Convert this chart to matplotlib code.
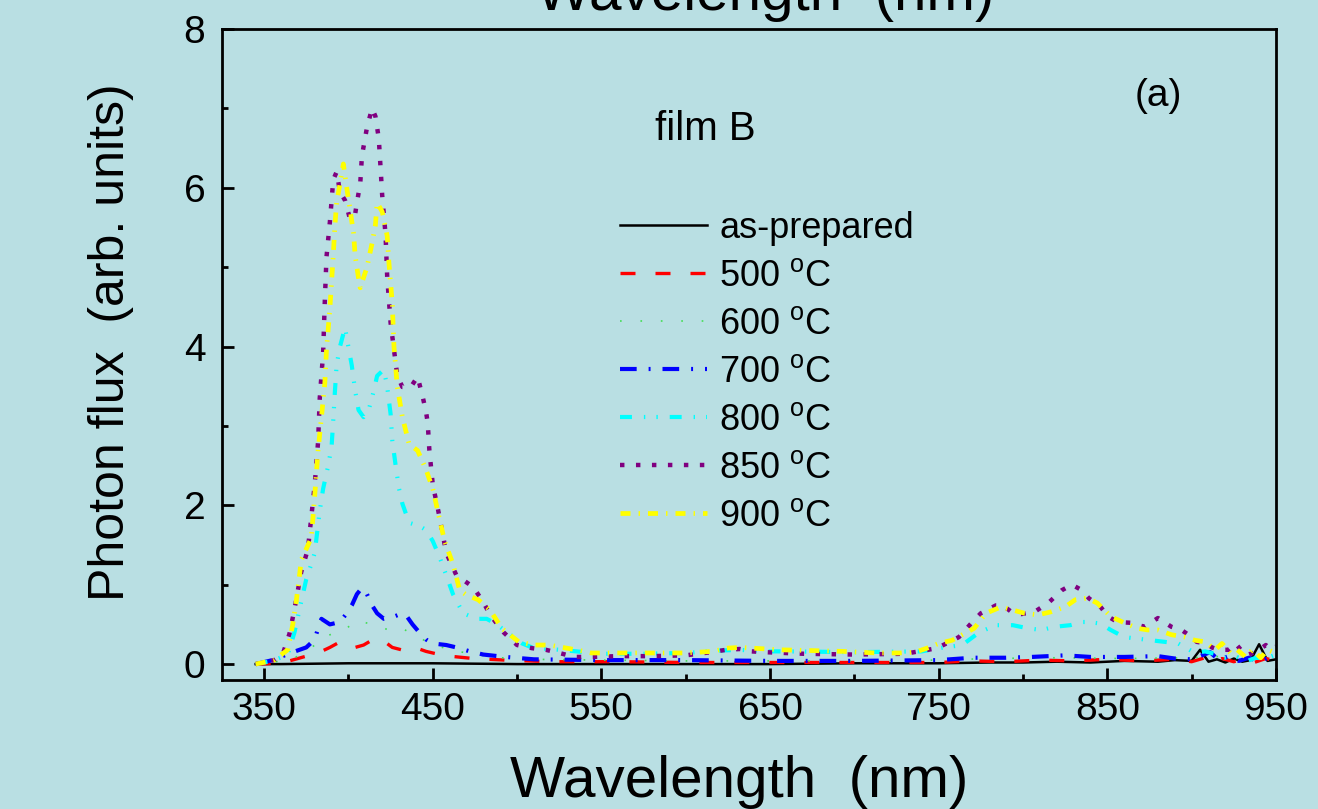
import matplotlib
matplotlib.use("Agg")
import matplotlib.pyplot as plt
from matplotlib.ticker import MultipleLocator

# data (wavelength in nm, photon flux in arb. units)
wl_ap = [345, 360, 400, 450, 500, 550, 600, 650, 700, 750, 780, 800, 820, 840,
         860, 880, 890, 900, 905, 910, 915, 920, 925, 930, 935, 940, 945, 950]
flux_ap = [0.0, 0.0, 0.01, 0.01, 0.0, 0.0, 0.0, 0.0, 0.01, 0.01, 0.02, 0.02, 0.03, 0.02,
           0.04, 0.03, 0.05, 0.04, 0.18, 0.03, 0.06, 0.02, 0.07, 0.03, 0.05, 0.25, 0.04, 0.06]

wl_500 = [345, 360, 375, 383, 389, 395, 399, 404, 409, 413, 417, 421, 426, 435, 442,
          446, 452, 460, 474, 493, 520, 560, 600, 650, 700, 750, 770, 790, 810, 830,
          850, 870, 890, 900, 908, 912, 918, 925, 930, 937, 944, 950]
flux_500 = [0.0, 0.01, 0.1, 0.15, 0.21, 0.28, 0.24, 0.21, 0.24, 0.29, 0.32, 0.29, 0.21, 0.16, 0.19,
            0.16, 0.13, 0.1, 0.07, 0.05, 0.03, 0.03, 0.02, 0.02, 0.02, 0.02, 0.04, 0.03, 0.05, 0.04,
            0.06, 0.04, 0.06, 0.03, 0.08, 0.02, 0.07, 0.03, 0.06, 0.02, 0.07, 0.04]

wl_600 = [345, 365, 375, 386, 397, 405, 414, 424, 432, 440, 450, 460, 475, 490, 510,
          550, 600, 650, 700, 750, 780, 820, 860, 900, 920, 950]
flux_600 = [0.0, 0.05, 0.15, 0.35, 0.42, 0.55, 0.5, 0.43, 0.45, 0.35, 0.25, 0.18, 0.12, 0.08, 0.06,
            0.05, 0.04, 0.04, 0.04, 0.05, 0.07, 0.08, 0.07, 0.08, 0.1, 0.08]

wl_700 = [345, 355, 367, 375, 380, 382, 384, 389, 395, 399, 402, 405, 408, 411, 414,
          417, 421, 426, 432, 435, 438, 442, 446, 450, 458, 464, 472, 480, 493, 510,
          550, 600, 650, 700, 750, 770, 790, 805, 825, 840, 860, 880, 890, 900, 911,
          916, 922, 928, 934, 940, 946, 950]
flux_700 = [0.0, 0.05, 0.15, 0.21, 0.31, 0.45, 0.57, 0.5, 0.53, 0.64, 0.74, 0.88, 0.96, 0.88, 0.74,
            0.64, 0.57, 0.59, 0.64, 0.59, 0.5, 0.4, 0.31, 0.26, 0.24, 0.21, 0.16, 0.12, 0.09, 0.06,
            0.05, 0.05, 0.04, 0.04, 0.05, 0.08, 0.08, 0.09, 0.11, 0.09, 0.09, 0.1, 0.07, 0.06, 0.15,
            0.05, 0.1, 0.04, 0.08, 0.03, 0.09, 0.08]

wl_800 = [345, 355, 364, 368, 371, 375, 378, 380, 383, 385, 388, 390, 391, 392, 393,
          395, 398, 399, 402, 404, 406, 409, 412, 415, 417, 421, 423, 425, 426, 428,
          430, 432, 436, 442, 446, 450, 454, 458, 462, 468, 476, 482, 488, 494, 503,
          510, 520, 535, 550, 575, 600, 620, 632, 645, 660, 700, 740, 750, 764, 774,
          784, 794, 803, 811, 819, 828, 835, 839, 846, 852, 860, 868, 876, 884, 892,
          897, 902, 908, 915, 920, 926, 932, 938, 944, 950]
flux_800 = [0.0, 0.04, 0.12, 0.4, 0.69, 1.07, 1.26, 1.4, 1.93, 2.21, 2.5, 2.74, 3.07, 3.44, 3.77,
            4.0, 4.24, 4.11, 3.76, 3.44, 3.2, 3.11, 3.2, 3.44, 3.63, 3.71, 3.49, 3.15, 2.82, 2.5,
            2.21, 2.02, 1.78, 1.74, 1.69, 1.55, 1.35, 1.12, 0.88, 0.64, 0.57, 0.57, 0.5, 0.4, 0.26,
            0.2, 0.19, 0.16, 0.13, 0.13, 0.14, 0.17, 0.18, 0.16, 0.16, 0.15, 0.16, 0.2, 0.24, 0.4,
            0.49, 0.49, 0.45, 0.43, 0.47, 0.49, 0.53, 0.53, 0.51, 0.43, 0.34, 0.32, 0.3, 0.28, 0.26,
            0.2, 0.14, 0.16, 0.12, 0.08, 0.1, 0.03, 0.08, 0.07, 0.12]

wl_850 = [345, 356, 361, 365, 368, 372, 376, 380, 382, 383, 385, 386, 387, 389, 391,
          393, 395, 398, 401, 404, 405, 407, 408, 411, 414, 416, 418, 419, 420, 422,
          423, 425, 427, 429, 432, 437, 441, 444, 446, 447, 448, 450, 453, 455, 458,
          464, 474, 480, 484, 492, 500, 509, 517, 525, 534, 543, 560, 580, 600, 615,
          624, 632, 639, 647, 670, 700, 730, 749, 762, 770, 775, 784, 788, 793, 799,
          807, 815, 823, 829, 835, 839, 846, 849, 852, 856, 864, 872, 880, 888, 894,
          900, 903, 909, 912, 916, 922, 926, 932, 938, 944, 947, 950]
flux_850 = [0.0, 0.05, 0.12, 0.38, 0.69, 1.16, 1.45, 2.26, 2.8, 3.35, 3.92, 4.58, 5.13, 5.57, 6.1,
            6.2, 5.95, 5.84, 5.6, 5.67, 5.81, 6.05, 6.4, 6.76, 7.0, 6.9, 6.62, 6.27, 5.91, 5.41,
            4.87, 4.3, 3.96, 3.63, 3.49, 3.49, 3.62, 3.37, 3.18, 3.04, 2.69, 2.26, 1.96, 1.74, 1.4,
            1.12, 0.97, 0.78, 0.62, 0.4, 0.24, 0.2, 0.18, 0.14, 0.09, 0.09, 0.1, 0.1, 0.11, 0.15,
            0.18, 0.19, 0.16, 0.15, 0.13, 0.12, 0.13, 0.2, 0.34, 0.53, 0.64, 0.74, 0.74, 0.66, 0.63,
            0.66, 0.77, 0.93, 1.0, 0.93, 0.83, 0.72, 0.64, 0.58, 0.53, 0.52, 0.47, 0.58, 0.47, 0.43,
            0.34, 0.28, 0.26, 0.21, 0.18, 0.18, 0.26, 0.11, 0.15, 0.24, 0.18, 0.22]

wl_900 = [345, 356, 364, 367, 369, 371, 372, 378, 380, 382, 384, 386, 387, 389, 391,
          392, 393, 395, 397, 399, 401, 403, 404, 406, 407, 411, 414, 416, 417, 420,
          423, 424, 426, 427, 429, 432, 436, 441, 444, 446, 450, 454, 457, 462, 466,
          470, 477, 484, 491, 501, 510, 519, 527, 535, 544, 560, 580, 600, 616, 624,
          632, 640, 656, 675, 693, 713, 727, 736, 743, 750, 758, 764, 771, 778, 787,
          794, 801, 809, 817, 825, 831, 838, 844, 852, 860, 868, 874, 880, 888, 896,
          902, 908, 914, 918, 923, 927, 932, 936, 941, 945, 950]
flux_900 = [0.0, 0.05, 0.18, 0.5, 0.78, 1.12, 1.31, 1.59, 2.12, 2.69, 3.11, 3.54, 3.96, 4.48, 5.15,
            5.53, 5.81, 6.05, 6.3, 6.0, 5.72, 5.43, 5.14, 4.86, 4.74, 5.0, 5.3, 5.53, 5.81, 5.7,
            5.39, 5.06, 4.54, 4.0, 3.49, 3.11, 2.77, 2.69, 2.55, 2.45, 2.21, 1.83, 1.55, 1.26, 0.93,
            0.87, 0.81, 0.68, 0.45, 0.28, 0.24, 0.24, 0.21, 0.18, 0.14, 0.14, 0.14, 0.14, 0.16, 0.2,
            0.21, 0.2, 0.18, 0.17, 0.16, 0.14, 0.14, 0.15, 0.2, 0.26, 0.3, 0.37, 0.45, 0.64, 0.72,
            0.68, 0.64, 0.62, 0.66, 0.72, 0.81, 0.83, 0.77, 0.6, 0.52, 0.45, 0.43, 0.43, 0.37, 0.34,
            0.3, 0.28, 0.18, 0.26, 0.14, 0.18, 0.09, 0.18, 0.08, 0.18, 0.14]

labels = ["as-prepared", r"500 $^{\rm o}$C", r"600 $^{\rm o}$C", r"700 $^{\rm o}$C",
          r"800 $^{\rm o}$C", r"850 $^{\rm o}$C", r"900 $^{\rm o}$C"]

bg = "#B9DFE3"
plt.rcParams["font.family"] = ["Liberation Sans", "DejaVu Sans"]
plt.rcParams["mathtext.fontset"] = "custom"
plt.rcParams["mathtext.rm"] = "Liberation Sans"
plt.rcParams["lines.scale_dashes"] = False

fig = plt.figure(figsize=(13.18, 8.09), dpi=100, facecolor=bg)
ax = fig.add_axes([0.1684, 0.1595, 0.7997, 0.8047], facecolor=bg)

ax.plot(wl_ap, flux_ap, color="black", lw=1.8, label=labels[0])
ax.plot(wl_500, flux_500, color="#FF0000", lw=2.4, dashes=(10.8, 14.4), label=labels[1])
ax.plot(wl_600, flux_600, color="#44DD55", lw=1.2, dashes=(1.2, 13.5), label=labels[2])
ax.plot(wl_700, flux_700, color="#0000FF", lw=3.0, dashes=(12, 8.6, 1.4, 8.6), label=labels[3])
ax.plot(wl_800, flux_800, color="#00FFFF", lw=3.0, dashes=(8.6, 8.6, 1, 8, 1, 8.6), label=labels[4])
ax.plot(wl_850, flux_850, color="#800080", lw=3.2, dashes=(3.2, 8.3), label=labels[5])
ax.plot(wl_900, flux_900, color="#FFFF00", lw=3.4, dashes=(7.2, 5.8, 1, 5.8), label=labels[6])

ax.set_xlim(325, 950)
ax.set_ylim(-0.2, 8)
ax.set_xticks([350, 450, 550, 650, 750, 850, 950])
ax.xaxis.set_minor_locator(MultipleLocator(50))
ax.yaxis.set_major_locator(MultipleLocator(2))
ax.yaxis.set_minor_locator(MultipleLocator(1))
ax.tick_params(which="both", direction="in", width=2, top=False, right=False)
ax.tick_params(which="major", length=8.6, labelsize=28, pad=12)
ax.tick_params(which="minor", length=4.3)
ax.tick_params(axis="x", which="major", pad=9)
for s in ax.spines.values():
    s.set_linewidth(2)

ax.set_xlabel("Wavelength  (nm)", fontsize=42)
ax.xaxis.set_label_coords(0.491, -0.116)
ax.set_ylabel("Photon flux  (arb. units)", fontsize=36)
ax.yaxis.set_label_coords(-0.083, 0.519)

# clipped copy of the axis title at the very top of the picture
fig.text(765 / 1318, 1 - 10 / 809, "Wavelength  (nm)", fontsize=42, ha="center", va="baseline")

fig.text(655 / 1318, 1 - 140 / 809, "film B", fontsize=29, ha="left", va="baseline")
fig.text(1158 / 1318, 1 - 106 / 809, "(a)", fontsize=28, ha="center", va="baseline")

leg = ax.legend(loc="upper left", bbox_to_anchor=(620 / 1318, 1 - 211 / 809),
                bbox_transform=fig.transFigure, frameon=False, fontsize=26,
                handlelength=2.4, handletextpad=0.35, labelspacing=0.36, borderpad=0,
                borderaxespad=0)

fig.savefig("out.png", dpi=100, facecolor=bg)
